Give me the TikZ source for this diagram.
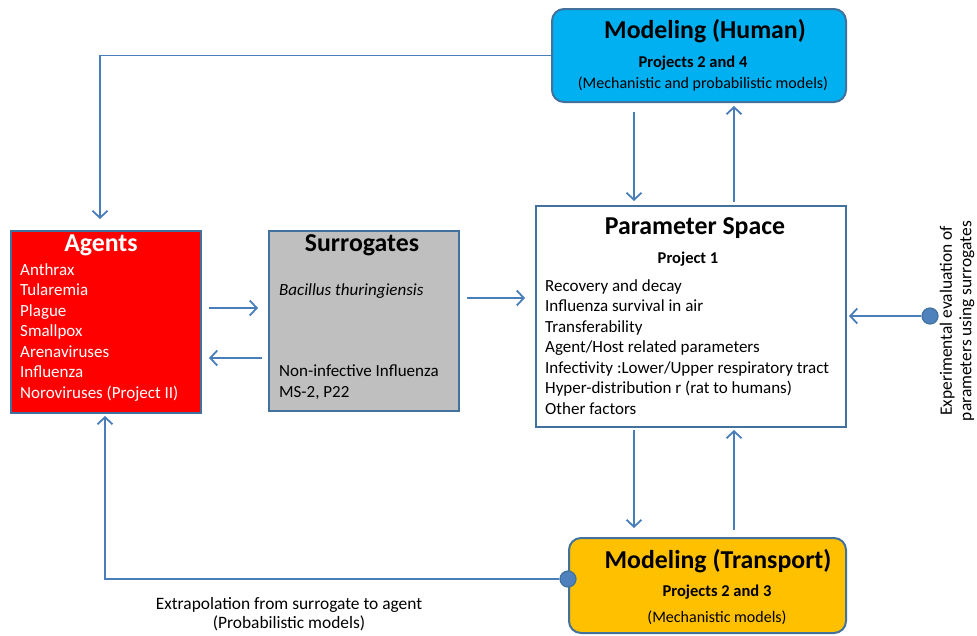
\documentclass[tikz,border=0pt]{standalone}
\usepackage{fontspec}
\setmainfont{Carlito}
\usetikzlibrary{arrows.meta,calc}
\definecolor{bd}{HTML}{41719C}
\definecolor{ar}{HTML}{4A7EBB}
\definecolor{cy}{HTML}{00B0F0}
\definecolor{rd}{HTML}{FF0000}
\definecolor{gy}{HTML}{BFBFBF}
\definecolor{yl}{HTML}{FFC000}
\definecolor{dot}{HTML}{4F81BD}
\begin{document}
\begin{tikzpicture}[x=1pt,y=-1pt,
  box/.style={draw=bd, line width=2pt, inner sep=0pt, anchor=north west},
  rbox/.style={box, rounded corners=12pt},
  arr/.style={draw=ar, line width=1.8pt, -{Straight Barb[length=7pt,width=15pt,line width=1.8pt]}},
  title/.style={inner sep=0pt, font=\fontsize{25.8}{30}\selectfont\bfseries},
  sub/.style={inner sep=0pt, font=\fontsize{16.5}{20}\selectfont\bfseries},
  note/.style={inner sep=0pt, font=\fontsize{16}{19}\selectfont, align=center},
  captext/.style={inner sep=0pt, font=\fontsize{17.4}{19.5}\selectfont, align=center},
  list/.style={inner sep=0pt, anchor=north west, align=left, font=\fontsize{17}{20.5}\selectfont},
  dotn/.style={circle, fill=dot, draw=bd, line width=1.2pt, minimum size=16pt, inner sep=0pt}]
\useasboundingbox (0,0) rectangle (977,635);
% boxes
\node[rbox, fill=cy, minimum width=294pt, minimum height=93pt] (mh) at (551,8) {};
\node[box, fill=rd, minimum width=190pt, minimum height=182pt] (ag) at (10,230) {};
\node[box, fill=gy, minimum width=190pt, minimum height=180pt] (su) at (268,230) {};
\node[box, fill=white, minimum width=310pt, minimum height=221pt] (ps) at (535,205) {};
\node[rbox, fill=yl, minimum width=277pt, minimum height=95pt] (mt) at (568,537) {};
% texts
\node[title] (mht) at (705,31) {Modeling (Human)};
\node[sub] (mhs) at (693,63) {Projects 2 and 4};
\node[note] (mhn) at (703,84) {(Mechanistic and probabilistic models)};
\node[title, text=white] (agt) at (101,245) {Agents};
\node[list, text=white] (agl) at (20,263) {Anthrax\\Tularemia\\Plague\\Smallpox\\Arenaviruses\\Influenza\\Noroviruses (Project II)};
\node[title] (sut) at (362,245) {Surrogates};
\node[list] (sul1) at (279,283) {\itshape Bacillus thuringiensis};
\node[list] (sul2) at (279,365) {Non-infective Influenza\\MS-2, P22};
\node[title] (pst) at (695,228) {Parameter Space};
\node[sub] (pss) at (688,259) {Project 1};
\node[list] (psl) at (545,279) {Recovery and decay\\Influenza survival in air\\Transferability\\Agent/Host related parameters\\Infectivity :Lower/Upper respiratory tract\\Hyper-distribution r (rat to humans)\\Other factors};
\node[title] (mtt) at (718,561) {Modeling (Transport)};
\node[sub] (mts) at (717,592) {Projects 2 and 3};
\node[note] (mtn) at (717,618) {(Mechanistic models)};
\node[captext, rotate=90] (exp) at (957,321) {Experimental evaluation of\\parameters using surrogates};
\node[captext] (ext) at (289,614) {Extrapolation from surrogate to agent\\(Probabilistic models)};
% helper coordinates
\coordinate (xa) at (634,0);
\coordinate (xb) at (734,0);
\coordinate (xg) at (100,0);
\coordinate (ya) at (0,308);
\coordinate (yb) at (0,358);
\coordinate (yc) at (0,298);
% connectors
\draw[arr, shorten >=11pt] (mh.west) -| (ag.north -| xg);
\draw[arr, shorten <=9pt, shorten >=4pt] (mh.south -| xa) -- (ps.north -| xa);
\draw[arr, shorten <=3pt, shorten >=3pt] (ps.north -| xb) -- (mh.south -| xb);
\draw[arr, shorten <=2pt, shorten >=9pt] (ps.south -| xa) -- (mt.north -| xa);
\draw[arr, shorten <=7pt, shorten >=2pt] (mt.north -| xb) -- (ps.south -| xb);
\draw[arr, shorten <=7pt, shorten >=10pt] (ag.east |- ya) -- (su.west |- ya);
\draw[arr, shorten <=6pt, shorten >=7pt] (su.west |- yb) -- (ag.east |- yb);
\draw[arr, shorten <=7pt, shorten >=10pt] (su.east |- yc) -- (ps.west |- yc);
\node[dotn] (c1) at (930,316) {};
\draw[arr, shorten >=2pt] (c1) -- (ps.east |- c1);
\node[dotn] (c2) at (mt.west |- 0,579) {};
\draw[arr, shorten >=2pt] (c2) -| (ag.south -| 105,0);
\end{tikzpicture}
\end{document}
